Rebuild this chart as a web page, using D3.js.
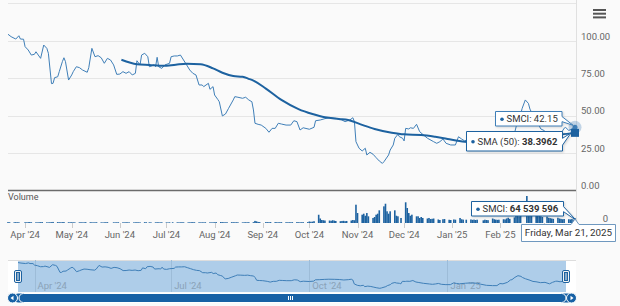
<!DOCTYPE html>
<html>
<head>
<meta charset="utf-8">
<script src="https://cdn.jsdelivr.net/npm/d3@7"></script>
<style>
body { margin: 0; background: #fafafa; }
svg { display: block; font-family: Roboto, "Noto Sans", sans-serif; }
</style>
</head>
<body>
<div id="chart"></div>
<script>
// SMCI close
const smciPrice = [
  ["2024-03-21",104.3],["2024-03-23",102.7],["2024-03-26",101.1],["2024-03-28",103.3],["2024-03-29",101.1],["2024-03-31",101.0],
  ["2024-04-01",96.0],["2024-04-03",93.8],["2024-04-05",90.4],["2024-04-07",90.9],["2024-04-08",92.6],["2024-04-11",88.2],["2024-04-13",97.1],["2024-04-15",94.9],["2024-04-16",91.6],["2024-04-18",71.3],["2024-04-19",71.5],["2024-04-20",75.3],["2024-04-22",75.9],["2024-04-23",79.3],["2024-04-25",86.0],["2024-04-26",88.6],["2024-04-27",86.0],["2024-04-29",73.7],
  ["2024-05-01",77.1],["2024-05-02",79.3],["2024-05-04",82.6],["2024-05-06",82.0],["2024-05-08",80.4],["2024-05-11",78.9],["2024-05-12",82.0],["2024-05-14",94.9],["2024-05-16",89.3],["2024-05-18",90.0],["2024-05-20",88.6],["2024-05-22",84.9],["2024-05-24",88.2],["2024-05-26",87.1],["2024-05-28",83.8],["2024-05-30",77.5],
  ["2024-06-01",77.7],["2024-06-03",79.3],["2024-06-05",78.2],["2024-06-07",79.3],["2024-06-09",77.1],["2024-06-11",78.2],["2024-06-12",86.6],["2024-06-14",83.8],["2024-06-15",90.4],["2024-06-17",91.6],["2024-06-19",89.3],["2024-06-20",82.6],["2024-06-23",83.8],["2024-06-24",82.6],["2024-06-25",88.9],["2024-06-26",82.6],["2024-06-28",81.5],["2024-06-30",83.8],
  ["2024-07-03",84.9],["2024-07-04",89.3],["2024-07-06",89.8],["2024-07-08",89.8],["2024-07-10",90.4],["2024-07-12",87.1],["2024-07-14",83.8],["2024-07-16",80.4],["2024-07-18",78.2],["2024-07-20",77.1],["2024-07-22",70.4],["2024-07-24",70.4],["2024-07-25",69.3],["2024-07-28",71.5],["2024-07-29",67.5],["2024-07-31",69.3],
  ["2024-08-01",63.7],["2024-08-03",60.8],["2024-08-04",59.2],["2024-08-06",49.7],["2024-08-08",51.0],["2024-08-10",54.8],["2024-08-13",60.4],["2024-08-14",62.6],["2024-08-16",62.2],["2024-08-19",61.5],["2024-08-21",62.2],["2024-08-23",60.4],["2024-08-25",59.2],["2024-08-26",53.7],["2024-08-27",44.8],["2024-08-29",44.1],["2024-08-31",43.6],
  ["2024-09-03",41.4],["2024-09-05",38.8],["2024-09-07",41.4],["2024-09-09",41.4],["2024-09-11",44.8],["2024-09-13",44.3],["2024-09-16",43.6],["2024-09-19",43.6],["2024-09-21",46.5],["2024-09-23",45.9],["2024-09-25",40.3],["2024-09-27",41.8],
  ["2024-10-01",40.8],["2024-10-04",42.1],["2024-10-05",46.5],["2024-10-08",47.0],["2024-10-11",47.9],["2024-10-14",48.5],["2024-10-18",48.1],["2024-10-21",47.5],["2024-10-24",45.9],["2024-10-27",47.0],["2024-10-29",48.5],["2024-10-30",45.9],["2024-10-31",32.5],
  ["2024-11-02",28.1],["2024-11-04",26.3],["2024-11-06",28.1],["2024-11-07",23.6],["2024-11-09",25.4],["2024-11-11",24.1],["2024-11-13",21.8],["2024-11-15",19.6],["2024-11-17",18.0],["2024-11-18",19.1],["2024-11-21",23.6],["2024-11-22",26.9],["2024-11-24",30.3],["2024-11-25",34.8],["2024-11-27",37.4],["2024-11-28",35.8],["2024-11-30",34.8],
  ["2024-12-01",33.0],["2024-12-02",41.4],["2024-12-04",41.0],["2024-12-05",41.8],["2024-12-07",41.4],["2024-12-09",44.1],["2024-12-11",39.2],["2024-12-13",37.4],["2024-12-16",34.8],["2024-12-20",32.5],["2024-12-22",31.4],["2024-12-24",32.5],["2024-12-26",34.3],["2024-12-28",31.4],["2024-12-31",30.3],
  ["2025-01-03",30.3],["2025-01-05",35.8],["2025-01-07",34.3],["2025-01-09",33.0],["2025-01-13",35.0],["2025-01-16",36.0],["2025-01-21",35.0],["2025-01-23",32.0],["2025-01-27",28.0],["2025-01-31",27.0],
  ["2025-02-03",27.0],["2025-02-05",34.0],["2025-02-07",33.0],["2025-02-10",38.0],["2025-02-12",46.0],["2025-02-13",47.0],["2025-02-15",54.8],["2025-02-17",60.4],["2025-02-19",58.1],["2025-02-20",54.3],["2025-02-22",50.0],["2025-02-25",45.0],["2025-02-27",41.0],
  ["2025-03-01",40.0],["2025-03-04",37.0],["2025-03-07",38.0],["2025-03-10",33.0],["2025-03-12",38.0],["2025-03-14",41.5],["2025-03-15",42.0],["2025-03-17",40.0],["2025-03-19",41.0],["2025-03-21",42.15]
]

// 50 day simple moving average
const sma50 = [
  ["2024-06-02",87.3],["2024-06-12",84.3],["2024-06-20",83.8],["2024-06-29",83.2],["2024-07-07",84.0],["2024-07-14",84.6],["2024-07-23",84.3],["2024-07-31",81.5],
  ["2024-08-06",78.6],["2024-08-13",76.4],["2024-08-19",75.9],["2024-08-23",74.5],["2024-08-26",73.3],["2024-09-03",68.0],["2024-09-13",60.4],["2024-09-24",54.3],
  ["2024-10-03",51.0],["2024-10-11",48.8],["2024-10-20",47.7],["2024-10-26",47.0],["2024-11-03",44.1],["2024-11-12",41.0],["2024-11-23",38.5],["2024-12-01",37.4],
  ["2024-12-12",37.0],["2024-12-21",35.8],["2024-12-29",34.3],["2025-01-09",32.5],["2025-01-20",32.0],["2025-01-31",31.8],["2025-02-10",32.2],["2025-02-20",34.0],
  ["2025-03-03",35.8],["2025-03-12",37.3],["2025-03-21",38.3962]
]

// daily volume in millions of shares, one value per trading day
const volumeM = [
  12,10,9,11,10,9,
  10,9,11,12,10,9,8,10,11,12,9,8,10,11,14,12,10,9,11,12,10,9,
  10,9,8,9,10,8,9,11,10,9,8,9,10,8,7,9,10,11,9,8,9,10,
  9,8,10,9,8,8,9,10,9,8,11,10,9,8,9,10,9,8,9,
  8,7,9,10,9,8,9,10,9,8,9,10,11,10,9,8,9,8,10,9,8,9,
  10,12,13,11,10,9,10,11,10,9,10,9,8,9,10,9,10,11,28,22,14,12,
  12,11,10,12,11,10,9,10,11,10,9,10,9,11,12,10,9,10,11,12,
  20,16,18,24,110,60,40,37,33,33,29,37,32,27,24,27,29,24,27,33,40,37,244,
  133,111,124,97,133,89,67,80,111,124,169,222,257,156,124,156,169,97,89,67,
  276,200,133,97,111,89,89,67,80,67,60,67,53,56,60,47,40,50,53,43,40,
  47,44,67,50,45,44,47,42,45,40,44,36,44,40,38,60,50,45,42,44,
  50,47,60,70,55,75,110,120,90,100,360,180,130,110,120,100,95,90,80,
  85,70,65,60,55,70,60,55,50,53,50,48,52,45,64.539596
]

const holidays = ['2024-03-29','2024-05-27','2024-06-19','2024-07-04','2024-09-02','2024-11-28',
  '2024-12-25','2025-01-01','2025-01-09','2025-01-20','2025-02-17']

const priceTicks = [0, 25, 50, 75, 100, 125]
const monthTicks = ['2024-04-01','2024-05-01','2024-06-01','2024-07-01','2024-08-01','2024-09-01',
  '2024-10-01','2024-11-01','2024-12-01','2025-01-01','2025-02-01','2025-03-01']
const navTicks = ['2024-04-01','2024-07-01','2024-10-01','2025-01-01']

const parse = d3.timeParse('%Y-%m-%d')
const fmt = d3.timeFormat('%Y-%m-%d')

let W = 620, H = 306
let priceColor = '#3f7fb8'
let dark = '#1d62a0'

let svg = d3.select('#chart').append('svg')
    .attr('width', W)
    .attr('height', H)

svg.append('rect').attr('width', W).attr('height', H).attr('fill', '#fafafa')

let start = parse('2024-03-21'), end = parse('2025-03-21')

let x = d3.scaleTime().domain([start, end]).range([8, 575])
let y = d3.scaleLinear().domain([0, 125]).range([190.3, 3.3])
let yVol = d3.scaleLinear().domain([0, 400]).range([223, 193])

// trading days for the volume bars
let tradingDays = d3.timeDay.range(start, d3.timeDay.offset(end, 1))
    .filter(d => d.getDay() % 6 !== 0 && !holidays.includes(fmt(d)))
let volume = tradingDays.map((d, i) => ({ date: d, value: volumeM[i] }))

let price = smciPrice.map(d => ({ date: parse(d[0]), value: d[1] }))
let sma = sma50.map(d => ({ date: parse(d[0]), value: d[1] }))

// grid
svg.append('g')
    .selectAll('line')
    .data(priceTicks.slice(1))
    .join('line')
    .attr('x1', 8).attr('x2', 576)
    .attr('y1', d => Math.round(y(d)) + 0.5)
    .attr('y2', d => Math.round(y(d)) + 0.5)
    .attr('stroke', '#e6e6e6')

svg.append('g')
    .selectAll('text')
    .data(priceTicks.filter(d => d <= 100))
    .join('text')
    .text(d => d3.format('.2f')(d))
    .attr('x', 581)
    .attr('y', d => y(d) - 4.5)
    .attr('dy', '0.35em')
    .attr('font-size', 9.5)
    .attr('fill', '#666')

// right edge of plot
svg.append('line')
    .attr('x1', 576.5).attr('x2', 576.5).attr('y1', 0).attr('y2', 224)
    .attr('stroke', '#e0e0e0')

// bottom of price pane
svg.append('line')
    .attr('x1', 8).attr('x2', 576).attr('y1', 190.5).attr('y2', 190.5)
    .attr('stroke', '#6b6b6b').attr('stroke-width', 1.5)

svg.append('text').text('Volume')
    .attr('x', 8).attr('y', 197).attr('dy', '0.35em')
    .attr('font-size', 9).attr('fill', '#555')

svg.append('text').text('0')
    .attr('x', 608).attr('y', 219).attr('dy', '0.35em')
    .attr('text-anchor', 'end')
    .attr('font-size', 9.5).attr('fill', '#666')

// volume bars
svg.append('g')
    .selectAll('rect')
    .data(volume)
    .join('rect')
    .attr('x', d => x(d.date) - 0.8)
    .attr('width', 1.6)
    .attr('y', d => yVol(d.value))
    .attr('height', d => yVol(0) - yVol(d.value))
    .attr('fill', dark)

// x axis (the March label sits under the date tooltip in the original)
let months = monthTicks.map(parse)
svg.append('g')
    .selectAll('line')
    .data(months)
    .join('line')
    .attr('x1', d => Math.round(x(d)) + 0.5).attr('x2', d => Math.round(x(d)) + 0.5)
    .attr('y1', 223).attr('y2', 228)
    .attr('stroke', '#ccc')

svg.append('g')
    .selectAll('text')
    .data(months.filter(d => d < parse('2025-03-01')))
    .join('text')
    .text(d => d3.timeFormat("%b '%y")(d))
    .attr('x', d => x(d))
    .attr('y', 235)
    .attr('dy', '0.35em')
    .attr('text-anchor', 'middle')
    .attr('font-size', 9.5)
    .attr('fill', '#666')

// price + SMA
let line = d3.line().x(d => x(d.date)).y(d => y(d.value))

svg.append('path')
    .datum(price)
    .attr('d', line)
    .attr('fill', 'none')
    .attr('stroke', priceColor)
    .attr('stroke-width', 1)

svg.append('path')
    .datum(sma)
    .attr('d', line.curve(d3.curveMonotoneX))
    .attr('fill', 'none')
    .attr('stroke', dark)
    .attr('stroke-width', 2)

// navigator
let xNav = d3.scaleTime().domain([start, end]).range([18, 566])
let yNav = d3.scaleLinear().domain(d3.extent(price, d => d.value)).range([288.3, 262.6])

svg.append('rect')
    .attr('x', 8).attr('y', 260).attr('width', 568).attr('height', 32)
    .attr('fill', '#fff')
svg.append('rect')
    .attr('x', xNav(start)).attr('y', 260)
    .attr('width', xNav(end) - xNav(start)).attr('height', 32)
    .attr('fill', '#aecde9')
svg.append('line')
    .attr('x1', 8).attr('x2', 576).attr('y1', 260.5).attr('y2', 260.5)
    .attr('stroke', '#ddd')

let navDates = navTicks.map(parse)
svg.append('g')
    .selectAll('line')
    .data(navDates)
    .join('line')
    .attr('x1', d => Math.round(xNav(d)) + 0.5).attr('x2', d => Math.round(xNav(d)) + 0.5)
    .attr('y1', 260).attr('y2', 292)
    .attr('stroke', '#9dbcd8')

svg.append('g')
    .selectAll('text')
    .data(navDates)
    .join('text')
    .text(d => d3.timeFormat("%b '%y")(d))
    .attr('x', d => xNav(d) + 3)
    .attr('y', 286)
    .attr('dy', '0.35em')
    .attr('font-size', 9.5)
    .attr('fill', '#8aa2b8')

svg.append('path')
    .datum(price)
    .attr('d', d3.line().x(d => xNav(d.date)).y(d => yNav(d.value)))
    .attr('fill', 'none')
    .attr('stroke', priceColor)
    .attr('stroke-width', 1)

// navigator handles
for (let hx of [xNav(start), xNav(end)]) {
    svg.append('rect')
        .attr('x', hx - 3.5).attr('y', 270.5).attr('width', 7).attr('height', 12)
        .attr('rx', 1.5)
        .attr('fill', '#f2f2f2').attr('stroke', dark)
    svg.append('rect')
        .attr('x', hx - 2).attr('y', 272).attr('width', 4).attr('height', 9)
        .attr('fill', dark)
    svg.append('line')
        .attr('x1', hx).attr('x2', hx).attr('y1', 273).attr('y2', 280)
        .attr('stroke', '#f2f2f2')
}

// scrollbar
svg.append('rect')
    .attr('x', 14).attr('y', 293.5).attr('width', 562).attr('height', 9)
    .attr('rx', 4.5)
    .attr('fill', '#1761a5')
svg.append('rect')
    .attr('x', 19).attr('y', 293.5).attr('width', 547).attr('height', 9)
    .attr('rx', 4.5)
    .attr('fill', '#1761a5').attr('stroke', '#fff')
for (let gx of [288, 290, 292]) {
    svg.append('line')
        .attr('x1', gx + 0.5).attr('x2', gx + 0.5).attr('y1', 296).attr('y2', 300)
        .attr('stroke', '#fff')
}
for (let [bx, dir] of [[12.5, -1], [571.5, 1]]) {
    svg.append('circle')
        .attr('cx', bx).attr('cy', 298).attr('r', 5)
        .attr('fill', '#1761a5').attr('stroke', '#fff')
    svg.append('path')
        .attr('d', `M${bx + dir * 2},298 L${bx - dir * 1},295.8 L${bx - dir * 1},300.2 Z`)
        .attr('fill', '#fff')
}

// hamburger menu
for (let my of [10, 13.7, 17.4]) {
    svg.append('line')
        .attr('x1', 593).attr('x2', 606).attr('y1', my).attr('y2', my)
        .attr('stroke', '#555').attr('stroke-width', 2)
}

// hover markers on last point
let lastP = price[price.length - 1]
let lastS = sma[sma.length - 1]
let lastV = volume[volume.length - 1]
let px = x(lastP.date)

svg.append('circle')
    .attr('cx', px).attr('cy', y(lastP.value)).attr('r', 6.5)
    .attr('fill', priceColor).attr('opacity', 0.3)
svg.append('circle')
    .attr('cx', px).attr('cy', y(lastP.value)).attr('r', 2.5)
    .attr('fill', priceColor)
svg.append('rect')
    .attr('x', px - 4).attr('y', y(lastS.value) - 4)
    .attr('width', 8).attr('height', 8)
    .attr('fill', dark)

// tooltip boxes
function tooltip(bx, by, bw, bh, label, bold, tip, border) {
    let g = svg.append('g')
    let r = bx + bw
    g.append('path')
        .attr('d', `M${bx},${by} H${r} V${by + bh * 0.35} L${tip[0]},${tip[1]} L${r},${by + bh * 0.7} V${by + bh} H${bx} Z`)
        .attr('fill', '#fff')
        .attr('stroke', border)
        .attr('stroke-width', 1)
        .style('filter', 'drop-shadow(1px 1px 1px rgba(0,0,0,0.15))')
    g.append('circle')
        .attr('cx', bx + 6.5).attr('cy', by + bh / 2 + 0.5).attr('r', 1.8)
        .attr('fill', dark)
    let t = g.append('text')
        .attr('x', bx + 11)
        .attr('y', by + bh / 2)
        .attr('dy', '0.35em')
        .attr('font-size', 9.5)
        .attr('fill', '#333')
    t.append('tspan').text(label)
    if (bold) t.append('tspan').text(bold).attr('font-weight', 'bold')
}

tooltip(495.5, 111.5, 66.5, 14.5, 'SMCI: ' + lastP.value.toFixed(2), '',
    [px - 2, y(lastP.value) - 2], priceColor)
tooltip(466.5, 131.5, 96, 19.5, 'SMA (50): ', lastS.value.toFixed(4),
    [px - 4, y(lastS.value)], dark)
tooltip(471.5, 201.5, 92, 14.5, 'SMCI: ', d3.format(',')(Math.round(lastV.value * 1e6)).replace(/,/g, ' '),
    [px + 1, yVol(lastV.value) + 2], dark)

// date label under the x axis
let dg = svg.append('g')
dg.append('path')
    .attr('d', `M521.5,224.5 H${px - 4} L${px},219 L${px + 4},224.5 H615.5 V241.5 H521.5 Z`)
    .attr('fill', '#fff')
    .attr('stroke', '#6f98bf')
dg.append('text')
    .text(d3.timeFormat('%A, %b %d, %Y')(lastP.date))
    .attr('x', 568.5).attr('y', 233).attr('dy', '0.35em')
    .attr('text-anchor', 'middle')
    .attr('font-size', 9.8)
    .attr('fill', '#333')
</script>
</body>
</html>
